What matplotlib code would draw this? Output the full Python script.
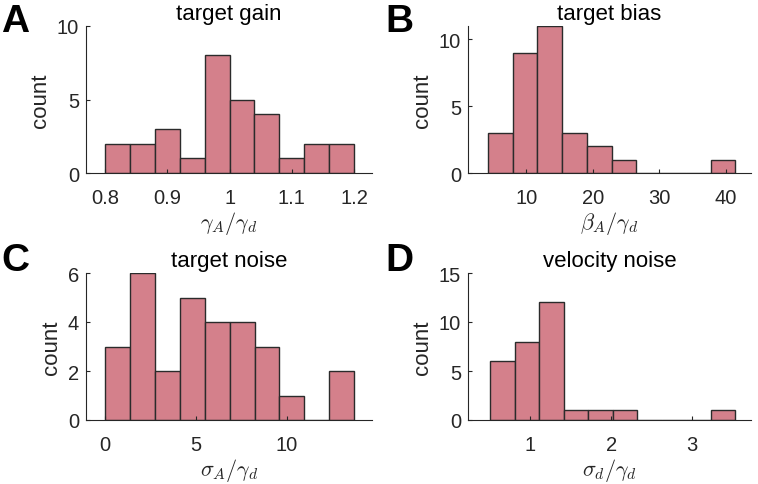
import matplotlib
matplotlib.use("Agg")
import matplotlib.pyplot as plt
import numpy as np

plt.rcParams['font.family'] = ['Liberation Sans', 'DejaVu Sans']
plt.rcParams['mathtext.fontset'] = 'cm'

# histogram data: counts per bin and the bin range
titles = ['target gain', 'target bias', 'target noise', 'velocity noise']
letters = ['A', 'B', 'C', 'D']
xlabels = [r'$\gamma_A/\gamma_d$', r'$\beta_A/\gamma_d$',
           r'$\sigma_A/\gamma_d$', r'$\sigma_d/\gamma_d$']

gain_counts = [2, 2, 3, 1, 8, 5, 4, 1, 2, 2]
bias_counts = [3, 9, 11, 3, 2, 1, 0, 0, 0, 1]
tnoise_counts = [3, 6, 2, 5, 4, 4, 3, 1, 0, 2]
vnoise_counts = [6, 8, 12, 1, 1, 1, 0, 0, 0, 1]
all_counts = [gain_counts, bias_counts, tnoise_counts, vnoise_counts]

bin_ranges = [(0.80, 1.20), (4.25, 41.4), (0.0, 13.7), (0.502, 3.535)]

xlims = [(0.769, 1.229), (1.25, 43.75), (-1.05, 14.68), (0.229, 3.727)]
ylims = [(0, 10), (0, 11), (0, 6), (0, 15)]
xticks = [[0.8, 0.9, 1.0, 1.1, 1.2], [10, 20, 30, 40], [0, 5, 10], [1, 2, 3]]
xticklabels = [['0.8', '0.9', '1', '1.1', '1.2'], ['10', '20', '30', '40'],
               ['0', '5', '10'], ['1', '2', '3']]
yticks = [[0, 5, 10], [0, 5, 10], [0, 2, 4, 6], [0, 5, 10, 15]]

W, H = 758, 485
# axes boxes in pixels: left, right, top, bottom
boxes = [(86, 372, 27, 174), (468, 751, 27, 174),
         (86, 372, 274, 421), (468, 751, 274, 421)]
letter_pos = [(15, 22), (399, 22), (15, 261), (399, 261)]

bar_color = '#d4808b'
edge_color = '#2b2b2b'
axis_color = '#262626'

fig = plt.figure(figsize=(W / 100, H / 100), dpi=100)

for i in range(4):
    l, r, t, b = boxes[i]
    ax = fig.add_axes([l / W, 1 - b / H, (r - l) / W, (b - t) / H])
    lo, hi = bin_ranges[i]
    counts = all_counts[i]
    edges = np.linspace(lo, hi, len(counts) + 1)
    ax.bar(edges[:-1], counts, width=np.diff(edges), align='edge',
           color=bar_color, edgecolor=edge_color, linewidth=1.0)
    ax.set_xlim(*xlims[i])
    ax.set_ylim(*ylims[i])
    ax.set_xticks(xticks[i])
    ax.set_xticklabels(xticklabels[i])
    ax.set_yticks(yticks[i])
    for s in ['top', 'right']:
        ax.spines[s].set_visible(False)
    for s in ['left', 'bottom']:
        ax.spines[s].set_color(axis_color)
        ax.spines[s].set_linewidth(0.8)
    ax.tick_params(axis='both', direction='in', length=3, width=0.8,
                   color=axis_color, labelcolor=axis_color, labelsize=14.5)
    ax.tick_params(axis='x', pad=11)
    ax.tick_params(axis='y', pad=5)
    ax.set_title(titles[i], fontsize=16, pad=5, color='black')
    ax.set_ylabel('count', fontsize=16, color=axis_color, labelpad=4)
    ax.set_xlabel(xlabels[i], fontsize=16, color=axis_color, labelpad=1)
    lx, ly = letter_pos[i]
    fig.text(lx / W, 1 - ly / H, letters[i], fontsize=28, fontweight='bold',
             ha='center', va='center')

fig.savefig('out.png', dpi=100)
